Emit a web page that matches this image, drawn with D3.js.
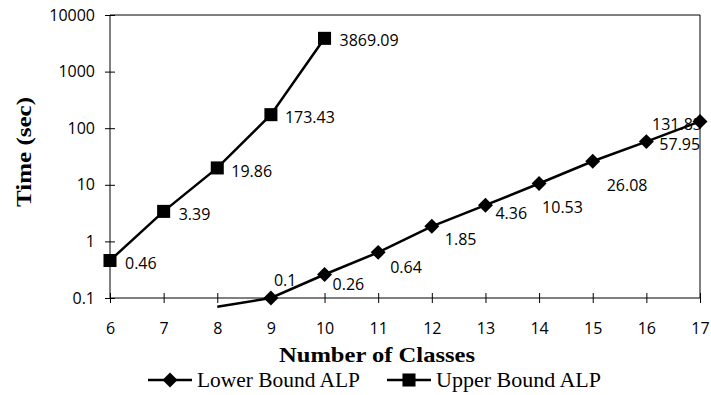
<!DOCTYPE html>
<html>
<head>
<meta charset="utf-8">
<script src="https://cdn.jsdelivr.net/npm/d3@7"></script>
<style>
  html, body { margin: 0; padding: 0; background: #fff; }
  svg { display: block; }
</style>
</head>
<body>
<svg id="chart" width="711" height="395"></svg>
<script>
// Number of classes on the x axis
const classes = [6, 7, 8, 9, 10, 11, 12, 13, 14, 15, 16, 17];

// Running times in seconds
const lowerX = [8, 9, 10, 11, 12, 13, 14, 15, 16, 17];
const lowerTimes = [0.07, 0.1, 0.26, 0.64, 1.85, 4.36, 10.53, 26.08, 57.95, 131.83];
const lowerLabeled = [false, true, true, true, true, true, true, true, true, true];

const upperX = [6, 7, 8, 9, 10];
const upperTimes = [0.46, 3.39, 19.86, 173.43, 3869.09];

const yTicks = [0.1, 1, 10, 100, 1000, 10000];
const seriesNames = ["Lower Bound ALP", "Upper Bound ALP"];

// Label placement relative to each point (px)
const lowerLabelOffsets = [[0, 0], [3, -18], [8, 10], [12, 15], [13, 13], [10, 8], [3, 24], [14, 24], [13, 3], [-48, 3]];
const upperLabelOffsets = [[15, 3], [15, 3], [14, 3], [14, 3], [15, 2]];

const svg = d3.select("#chart");
const margin = { left: 110, right: 11, top: 15, bottom: 97 };
const W = 711, H = 395;

const x = d3.scaleLinear().domain([6, 17]).range([margin.left, W - margin.right]);
const y = d3.scaleLog().domain([0.1, 10000]).range([H - margin.bottom, margin.top]);

const tickFont = "'Open Sans', sans-serif";
const tickSize = 16;
const serif = "'Liberation Serif', 'Times New Roman', serif";

// Plot frame: top and right edges
svg.append("path")
  .attr("d", `M${x(6)},${y(10000)}H${x(17)}V${y(0.1)}`)
  .attr("fill", "none").attr("stroke", "#000").attr("stroke-width", 1);

// Y axis (log) with crossing ticks
const yAxis = svg.append("g").attr("transform", `translate(${x(6)},0)`)
  .call(d3.axisLeft(y).tickValues(yTicks).tickSize(5).tickPadding(10)
    .tickFormat(d => d < 1 ? "0.1" : d3.format("d")(d)));
yAxis.select(".domain").remove();
yAxis.append("line").attr("y1", y(0.1)).attr("y2", y(10000)).attr("stroke", "#000");
yAxis.selectAll(".tick line").attr("x1", 5).attr("x2", -5);
yAxis.selectAll("text").attr("font-family", tickFont).attr("font-size", tickSize).attr("fill", "#000");

// X axis at 0.1 with crossing ticks
const xAxis = svg.append("g").attr("transform", `translate(0,${y(0.1)})`)
  .call(d3.axisBottom(x).tickValues(classes).tickSize(5).tickPadding(20).tickFormat(d3.format("d")));
xAxis.select(".domain").remove();
xAxis.append("line").attr("x1", x(6)).attr("x2", x(17)).attr("stroke", "#000");
xAxis.selectAll(".tick line").attr("y1", -5).attr("y2", 5);
xAxis.selectAll("text").attr("font-family", tickFont).attr("font-size", tickSize).attr("fill", "#000");

// Axis titles
svg.append("text")
  .attr("x", 377).attr("y", 362)
  .attr("text-anchor", "middle")
  .attr("font-family", serif).attr("font-weight", "bold").attr("font-size", 22)
  .attr("textLength", 196).attr("lengthAdjust", "spacingAndGlyphs")
  .text("Number of Classes");

svg.append("text")
  .attr("transform", "translate(31,152) rotate(-90)")
  .attr("text-anchor", "middle")
  .attr("font-family", serif).attr("font-weight", "bold").attr("font-size", 22)
  .attr("textLength", 110).attr("lengthAdjust", "spacingAndGlyphs")
  .text("Time (sec)");

const line = d3.line().x(d => x(d[0])).y(d => y(d[1]));

const lowerData = lowerX.map((c, i) => [c, lowerTimes[i]]);
const upperData = upperX.map((c, i) => [c, upperTimes[i]]);

const diamond = d3.symbol().type(d3.symbolSquare).size(112);
const square = d3.symbol().type(d3.symbolSquare).size(170);

// Lower bound series
svg.append("path").datum(lowerData).attr("d", line)
  .attr("fill", "none").attr("stroke", "#000").attr("stroke-width", 2.5);
svg.selectAll(".lowerMark").data(lowerData.filter(d => d[1] >= 0.1)).enter()
  .append("path").attr("class", "lowerMark")
  .attr("transform", d => `translate(${x(d[0])},${y(d[1])}) rotate(45)`)
  .attr("d", diamond).attr("fill", "#000");

// Upper bound series
svg.append("path").datum(upperData).attr("d", line)
  .attr("fill", "none").attr("stroke", "#000").attr("stroke-width", 2.5);
svg.selectAll(".upperMark").data(upperData).enter()
  .append("path").attr("class", "upperMark")
  .attr("transform", d => `translate(${x(d[0])},${y(d[1])})`)
  .attr("d", square).attr("fill", "#000");

// Value labels
const fmt = v => String(v);
lowerData.forEach((d, i) => {
  if (!lowerLabeled[i]) return;
  svg.append("text")
    .attr("x", x(d[0]) + lowerLabelOffsets[i][0])
    .attr("y", y(d[1]) + lowerLabelOffsets[i][1])
    .attr("dy", "0.35em")
    .attr("font-family", tickFont).attr("font-size", tickSize)
    .text(fmt(d[1]));
});
upperData.forEach((d, i) => {
  svg.append("text")
    .attr("x", x(d[0]) + upperLabelOffsets[i][0])
    .attr("y", y(d[1]) + upperLabelOffsets[i][1])
    .attr("dy", "0.35em")
    .attr("font-family", tickFont).attr("font-size", tickSize)
    .text(fmt(d[1]));
});

// Legend
const legend = svg.append("g").attr("transform", "translate(0,380)");
const legendItems = [
  { name: seriesNames[0], x0: 148, sym: diamond, rot: 45, w: 163 },
  { name: seriesNames[1], x0: 387, sym: square, rot: 0, w: 165 }
];
legendItems.forEach(it => {
  legend.append("line").attr("x1", it.x0).attr("x2", it.x0 + 44)
    .attr("stroke", "#000").attr("stroke-width", 2.5);
  legend.append("path").attr("d", it.sym)
    .attr("transform", `translate(${it.x0 + 22},0) rotate(${it.rot})`).attr("fill", "#000");
  legend.append("text").attr("x", it.x0 + 49).attr("y", 0).attr("dy", "0.33em")
    .attr("font-family", serif).attr("font-size", 21)
    .attr("textLength", it.w).attr("lengthAdjust", "spacingAndGlyphs")
    .text(it.name);
});
</script>
</body>
</html>
